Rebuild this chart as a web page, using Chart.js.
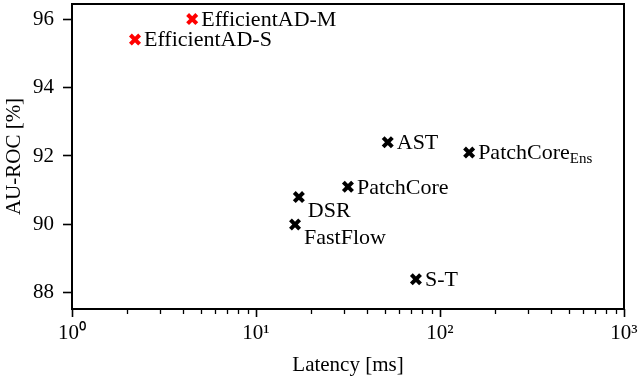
<!DOCTYPE html>
<html>
<head>
<meta charset="utf-8">
<script src="https://cdn.jsdelivr.net/npm/chart.js@4.4.0/dist/chart.umd.min.js"></script>
<style>
  html, body { margin: 0; padding: 0; background: #fff; }
</style>
</head>
<body>
<canvas id="myChart" width="640" height="379"></canvas>
<script>
// values
const methods = ['EfficientAD-S', 'EfficientAD-M', 'AST', 'PatchCore_Ens', 'PatchCore', 'DSR', 'FastFlow', 'S-T'];
const latencyMs = [2.2, 4.5, 52, 144, 31.6, 17.1, 16.3, 74];
const aurocPct = [95.4, 96.0, 92.4, 92.1, 91.1, 90.8, 90.0, 88.4];
const isOurs = [true, true, false, false, false, false, false, false];
const labelBelow = ['DSR', 'FastFlow'];

const xRange = [1, 1000];
const xTickValues = [1, 10, 100, 1000];
const xTickLabels = ['10\u2070', '10\u00b9', '10\u00b2', '10\u00b3'];
const yRange = [87.53, 96.44];
const yTickValues = [88, 90, 92, 94, 96];

const serif = "'Liberation Serif', 'Times New Roman', serif";

// minor log ticks 2..9 per decade
let minorX = [];
xTickValues.slice(0, -1).forEach(d => {
    for (let k = 2; k <= 9; k++) minorX.push(d * k);
});

const pts = (ours) => methods.map((m, i) => ({ x: latencyMs[i], y: aurocPct[i], name: m, keep: isOurs[i] === ours }))
    .filter(p => p.keep);

const labelsPlugin = {
    id: 'labelsPlugin',
    afterDatasetsDraw(chart) {
        const ctx = chart.ctx;
        ctx.save();
        ctx.fillStyle = '#000';
        chart.data.datasets.forEach((ds, di) => {
            const meta = chart.getDatasetMeta(di);
            meta.data.forEach((el, i) => {
                const name = ds.data[i].name;
                let x = el.x + 9;
                let y = el.y + 1;
                if (labelBelow.includes(name)) y = el.y + 14;
                ctx.textBaseline = 'middle';
                ctx.textAlign = 'left';
                const parts = name.split('_');
                ctx.font = '22px ' + serif;
                ctx.fillText(parts[0], x, y);
                if (parts[1]) {
                    const w = ctx.measureText(parts[0]).width;
                    ctx.font = '15px ' + serif;
                    ctx.fillText(parts[1], x + w, y + 5);
                }
            });
        });
        ctx.restore();
    },
    afterDraw(chart) {
        const { ctx, chartArea: a, scales } = chart;
        ctx.save();
        ctx.strokeStyle = '#000';
        ctx.lineWidth = 1.3;
        minorX.forEach(v => {
            const px = Math.round(scales.x.getPixelForValue(v)) + 0.5;
            ctx.beginPath();
            ctx.moveTo(px, a.bottom);
            ctx.lineTo(px, a.bottom + 5);
            ctx.stroke();
        });
        ctx.lineWidth = 2;
        ctx.strokeRect(a.left, a.top, a.right - a.left, a.bottom - a.top);
        ctx.restore();
    }
};

const ctx = document.getElementById('myChart');

const myChart = new Chart(ctx, {
    type: 'scatter',
    data: {
        datasets: [{
            data: pts(true),
            pointStyle: 'crossRot',
            pointRadius: 6.5,
            pointBorderWidth: 4,
            borderColor: '#ff0000',
            backgroundColor: '#ff0000',
        }, {
            data: pts(false),
            pointStyle: 'crossRot',
            pointRadius: 6.5,
            pointBorderWidth: 4,
            borderColor: '#000',
            backgroundColor: '#000',
        }],
    },
    options: {
        responsive: false,
        animation: false,
        devicePixelRatio: 1,
        layout: { autoPadding: false, padding: { top: 4, right: 16, left: 0, bottom: 0 } },
        plugins: { legend: { display: false }, tooltip: { enabled: false } },
        scales: {
            x: {
                type: 'logarithmic',
                min: xRange[0],
                max: xRange[1],
                afterFit: (s) => { s.height = 70; s.paddingLeft = 0; s.paddingRight = 0; },
                afterBuildTicks: (s) => { s.ticks = xTickValues.map(v => ({ value: v })); },
                grid: { drawOnChartArea: false, tickLength: 8, tickWidth: 1.6, tickColor: '#000' },
                border: { display: false },
                ticks: {
                    autoSkip: false,
                    maxRotation: 0,
                    padding: 4,
                    color: '#000',
                    font: { family: serif, size: 21 },
                    callback: (v) => xTickLabels[xTickValues.indexOf(v)],
                },
                title: {
                    display: true,
                    text: 'Latency [ms]',
                    color: '#000',
                    font: { family: serif, size: 21 },
                    padding: { top: 0, bottom: 1 },
                },
            },
            y: {
                min: yRange[0],
                max: yRange[1],
                afterFit: (s) => { s.width = 72; s.paddingTop = 0; s.paddingBottom = 0; },
                afterBuildTicks: (s) => { s.ticks = yTickValues.map(v => ({ value: v })); },
                grid: { drawOnChartArea: false, tickLength: 9, tickWidth: 1.6, tickColor: '#000' },
                border: { display: false },
                ticks: {
                    padding: 9,
                    color: '#000',
                    font: { family: serif, size: 21 },
                },
                title: {
                    display: true,
                    text: 'AU-ROC [%]',
                    color: '#000',
                    font: { family: serif, size: 21 },
                    padding: { top: 2, bottom: 0 },
                },
            },
        },
    },
    plugins: [labelsPlugin],
});
</script>
</body>
</html>
